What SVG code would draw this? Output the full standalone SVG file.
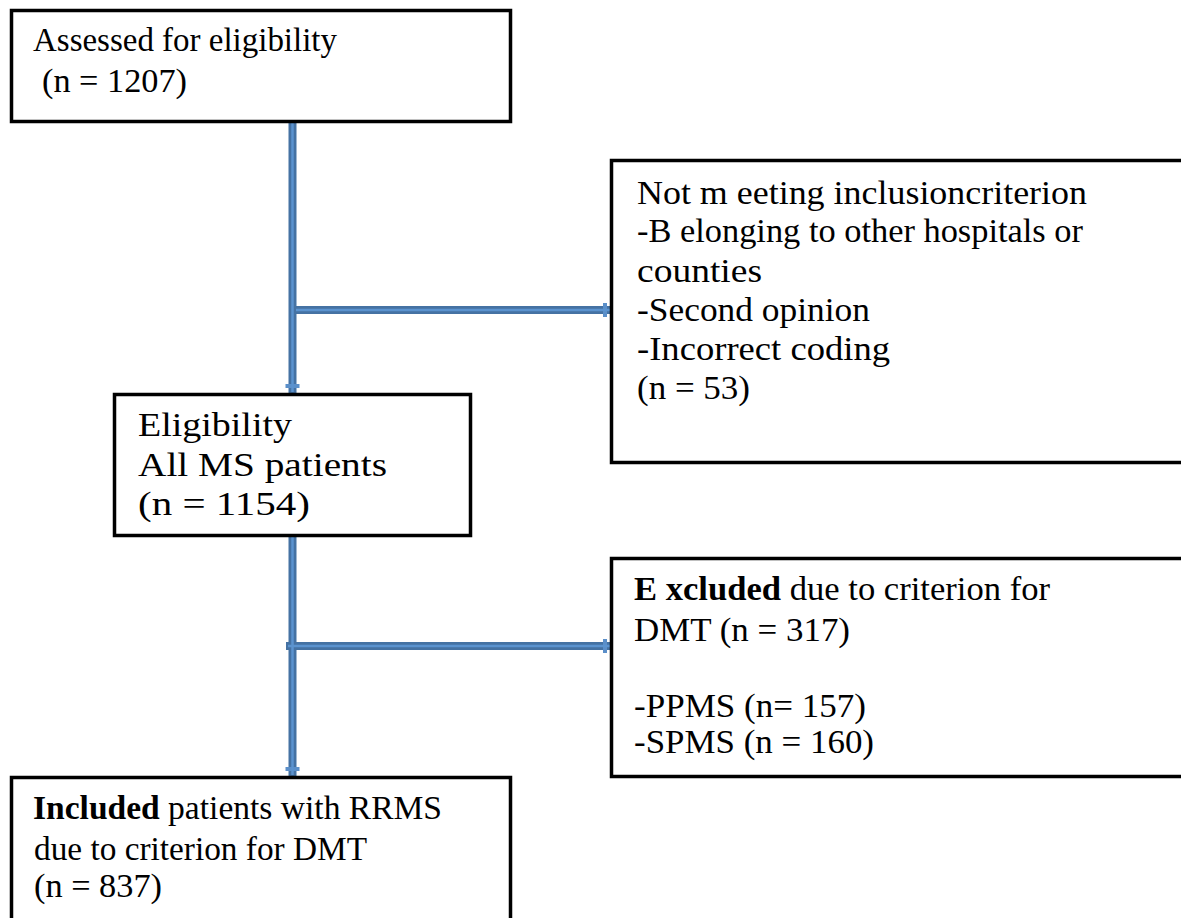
<svg xmlns="http://www.w3.org/2000/svg" width="1181" height="918" viewBox="0 0 1181 918">
<style>
.box{fill:#ffffff;stroke:#000000;stroke-width:3.5}
.t{font-family:"Liberation Serif","Times New Roman",serif;font-size:33px;fill:#000000}
.b{font-weight:bold}
.outer{fill:none;stroke:#4572a3;stroke-width:8}
.inner{fill:none;stroke:#5b93cf;stroke-width:2.5}
</style>
<defs>
<marker id="tick" viewBox="0 0 12 16" refX="12" refY="8" markerWidth="12" markerHeight="16" markerUnits="userSpaceOnUse" orient="auto">
<rect x="2" y="1" width="4" height="14" fill="#5b8fc9"/>
</marker>
</defs>
<rect width="1181" height="918" fill="#ffffff"/>
<g id="connectors">
<path class="outer" d="M292.5,121 V394" marker-end="url(#tick)"/>
<path class="outer" d="M292.5,310 H613" marker-end="url(#tick)"/>
<path class="outer" d="M292.5,536 V777" marker-end="url(#tick)"/>
<path class="outer" d="M286,646 H613" marker-end="url(#tick)"/>
<path class="inner" d="M292.5,121 V392 M296,310 H611 M292.5,536 V775 M288,646 H611"/>
</g>
<g id="assessed">
<rect class="box" x="11.5" y="10.5" width="499" height="111"/>
<text class="t" x="33" y="51" textLength="304" lengthAdjust="spacingAndGlyphs">Assessed for eligibility</text>
<text class="t" x="42" y="92" textLength="145" lengthAdjust="spacingAndGlyphs">(n = 1207)</text>
</g>
<g id="not-meeting">
<rect class="box" x="611.5" y="160.5" width="590" height="302"/>
<text class="t" x="637" y="204" textLength="450" lengthAdjust="spacingAndGlyphs">Not m eeting inclusioncriterion</text>
<text class="t" x="637" y="242" textLength="446" lengthAdjust="spacingAndGlyphs">-B elonging to other hospitals or</text>
<text class="t" x="637" y="282" textLength="125" lengthAdjust="spacingAndGlyphs">counties</text>
<text class="t" x="637" y="321" textLength="233" lengthAdjust="spacingAndGlyphs">-Second opinion</text>
<text class="t" x="637" y="360" textLength="253" lengthAdjust="spacingAndGlyphs">-Incorrect coding</text>
<text class="t" x="637" y="399" textLength="113" lengthAdjust="spacingAndGlyphs">(n = 53)</text>
</g>
<g id="eligibility">
<rect class="box" x="114.5" y="394.5" width="356" height="141"/>
<text class="t" x="138" y="436" textLength="154" lengthAdjust="spacingAndGlyphs">Eligibility</text>
<text class="t" x="138" y="476" textLength="249" lengthAdjust="spacingAndGlyphs">All MS patients</text>
<text class="t" x="138" y="515" textLength="172" lengthAdjust="spacingAndGlyphs">(n = 1154)</text>
</g>
<g id="excluded">
<rect class="box" x="611.5" y="558.5" width="590" height="218"/>
<text class="t" x="634" y="600" textLength="416" lengthAdjust="spacingAndGlyphs"><tspan class="b">E xcluded</tspan> due to criterion for</text>
<text class="t" x="634" y="641" textLength="216" lengthAdjust="spacingAndGlyphs">DMT (n = 317)</text>
<text class="t" x="634" y="717" textLength="232" lengthAdjust="spacingAndGlyphs">-PPMS (n= 157)</text>
<text class="t" x="634" y="753" textLength="240" lengthAdjust="spacingAndGlyphs">-SPMS (n = 160)</text>
</g>
<g id="included">
<rect class="box" x="11.5" y="777.5" width="499" height="160"/>
<text class="t" x="33" y="819" textLength="409" lengthAdjust="spacingAndGlyphs"><tspan class="b">Included</tspan> patients with RRMS</text>
<text class="t" x="34" y="860" textLength="333" lengthAdjust="spacingAndGlyphs">due to criterion for DMT</text>
<text class="t" x="34" y="897" textLength="128" lengthAdjust="spacingAndGlyphs">(n = 837)</text>
</g>
</svg>
